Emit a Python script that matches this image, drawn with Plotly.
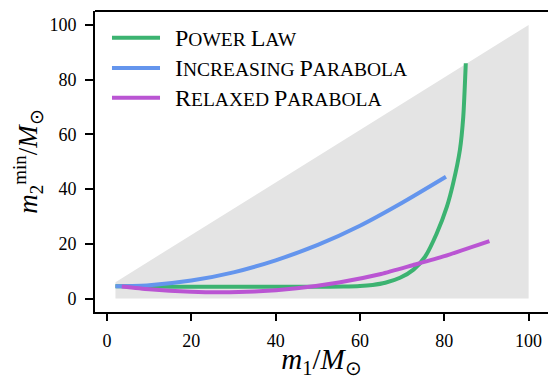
import plotly.graph_objects as go

# ---- data ----
power_law_m1 = [2, 10, 20, 30, 40, 50, 56, 60, 63, 66, 69.5, 72.7, 75.4, 78.2, 80.6, 82.1, 83.7, 84.5, 85.1]
power_law_m2 = [4.5, 4.4, 4.3, 4.3, 4.3, 4.3, 4.4, 4.6, 5.0, 5.8, 7.6, 10.6, 15.2, 23.8, 33.5, 42.1, 54.3, 66.4, 86.0]

inc_par_m1 = [2, 10, 20, 30, 40, 50, 60, 70, 80.4]
inc_par_m2 = [4.5, 4.9, 6.6, 9.6, 14.0, 19.6, 26.6, 35.0, 44.5]

rel_par_m1 = [3.5, 10, 20, 27, 35, 45, 55, 65, 72.5, 80, 90.7]
rel_par_m2 = [4.4, 3.4, 2.5, 2.3, 2.6, 3.8, 5.9, 9.0, 12.2, 15.5, 21.0]

region_m1 = [2, 100, 100, 2]
region_m2 = [6, 100, 0, 0]

series_names = ["Power Law", "Increasing Parabola", "Relaxed Parabola"]
series_colors = ["#3CB371", "#6495ED", "#BA55D3"]
ticks = [0, 20, 40, 60, 80, 100]

FONT = "Liberation Serif"


def small_caps(label, small=19.5):
    """Render a label in small caps: capitals at full size, other letters as smaller capitals."""
    out = []
    for word in label.split(" "):
        out.append(word[0].upper() +
                   f"<span style='font-size:{small}px'>{word[1:].upper()}</span>")
    return f"<span style='font-size:{small}px'> </span>".join(out)


fig = go.Figure()
fig.add_trace(go.Scatter(x=region_m1, y=region_m2, fill="toself", fillcolor="#e4e4e4",
                         line=dict(width=0), mode="lines", hoverinfo="skip", showlegend=False))

for (xs, ys), name, col in zip([(power_law_m1, power_law_m2), (inc_par_m1, inc_par_m2), (rel_par_m1, rel_par_m2)],
                               series_names, series_colors):
    fig.add_trace(go.Scatter(x=xs, y=ys, mode="lines", name=name,
                             line=dict(color=col, width=4, shape="spline", smoothing=0.6),
                             showlegend=False))

# manual legend (longer sample lines as in reference)
leg_y = [0.911, 0.811, 0.712]
for name, col, yy in zip(series_names, series_colors, leg_y):
    fig.add_shape(type="line", xref="paper", yref="paper", x0=0.0375, x1=0.1435, y0=yy, y1=yy,
                  line=dict(color=col, width=4))
    fig.add_annotation(xref="paper", yref="paper", x=0.172, y=yy, text=small_caps(name), showarrow=False,
                       xanchor="left", yanchor="middle",
                       font=dict(family=FONT, size=24, color="black"))

# top frame line
fig.add_shape(type="line", xref="paper", yref="paper", x0=0, x1=1.02, y0=1, y1=1,
              line=dict(color="black", width=2))

fig.update_layout(
    width=548, height=379,
    margin=dict(l=95, r=0, t=11, b=67),
    plot_bgcolor="white", paper_bgcolor="white",
    font=dict(family=FONT, size=18, color="black"),
    xaxis=dict(range=[-2.85, 104.6], tickvals=ticks, showline=True, linecolor="black", linewidth=2,
               ticks="outside", ticklen=7, tickwidth=1.5, tickcolor="black", showgrid=False,
               zeroline=False, tickfont=dict(size=18), ticklabelstandoff=4,
               title=dict(text="<i>m</i><sub>1</sub>/<i>M</i><sub>⊙</sub>", font=dict(size=29), standoff=1)),
    yaxis=dict(range=[-4.9, 105.1], tickvals=ticks, showline=True, linecolor="black", linewidth=2,
               ticks="outside", ticklen=8, tickwidth=1.5, tickcolor="black", showgrid=False,
               zeroline=False, tickfont=dict(size=18), ticklabelstandoff=5,
               title=dict(text="<i>m</i><sub>2</sub><sup>min</sup>/<i>M</i><sub>⊙</sub>", font=dict(size=27), standoff=4)),
)

fig.write_html("out.html")
